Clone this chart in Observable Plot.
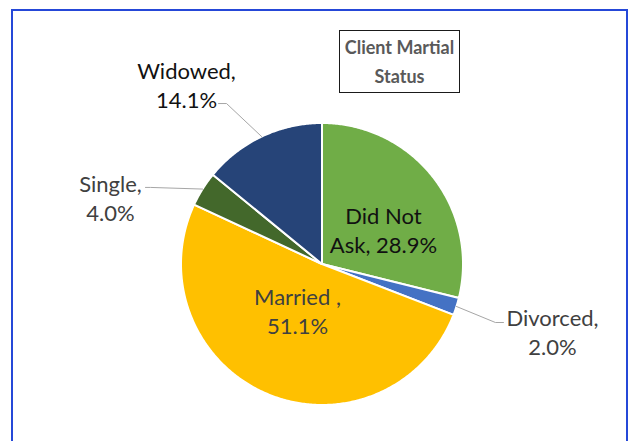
<!DOCTYPE html>
<html>
<head>
<meta charset="utf-8">
<script src="https://cdn.jsdelivr.net/npm/d3@7"></script>
<script src="https://cdn.jsdelivr.net/npm/@observablehq/plot@0.6"></script>
<style>
  html, body { margin: 0; padding: 0; background: #fff; }
  #wrap { position: relative; width: 629px; height: 441px; overflow: hidden; font-family: Lato, sans-serif; }
  #frame { position: absolute; left: 11px; top: 9px; width: 617px; height: 500px; box-sizing: border-box; border: 2px solid #2548d8; pointer-events: none; }
  #title { position: absolute; left: 339px; top: 30px; width: 121px; height: 63px; box-sizing: border-box; border: 1px solid #1a1a1a; color: #595959; font-weight: bold; font-size: 18px; line-height: 29px; text-align: center; padding-top: 2px; }
  #chart { position: absolute; left: 0; top: 0; }
</style>
</head>
<body>
<div id="wrap">
  <div id="chart"></div>
  <div id="frame"></div>
  <div id="title">Client Martial<br>Status</div>
</div>
<script>
// ---- data ----
const categories = ["Did Not Ask", "Divorced", "Married ", "Single", "Widowed"];
const values = [28.9, 2.0, 51.1, 4.0, 14.1];
const colors = ["#70AD47", "#4472C4", "#FFC000", "#43682B", "#264478"];

// ---- layout (in units of the pie radius, relative to centre, y downward) ----
const labelPos = [[0.436, -0.245], [1.635, 0.479], [-0.174, 0.33], [-1.5, -0.472], [-0.961, -1.273]];
const labelFirstLineWords = [2, 1, 2, 1, 1];
const labelDark = [true, false, false, false, true];
const leaderElbow = [null, [1.23, 0.415], null, [-1.216, -0.543], [-0.677, -1.138]];
const leaderEnd = [null, [1.287, 0.415], null, [-1.252, -0.543], [-0.734, -1.138]];

const W = 629, H = 441, cx = 321.5, cy = 263.5, R = 141;

const arcs = d3.pie().sort(null).value(d => d)(values);

const slicePts = [];
arcs.forEach((a, i) => {
  slicePts.push({cat: categories[i], x: 0, y: 0});
  const n = Math.max(2, Math.ceil((a.endAngle - a.startAngle) / 0.01));
  for (let k = 0; k <= n; k++) {
    const t = a.startAngle + (a.endAngle - a.startAngle) * k / n;
    slicePts.push({cat: categories[i], x: Math.sin(t), y: -Math.cos(t)});
  }
  slicePts.push({cat: categories[i], x: 0, y: 0});
});

const leaderPts = [];
arcs.forEach((a, i) => {
  if (!leaderElbow[i]) return;
  const m = (a.startAngle + a.endAngle) / 2;
  leaderPts.push({cat: categories[i], x: Math.sin(m), y: -Math.cos(m)});
  leaderPts.push({cat: categories[i], x: leaderElbow[i][0], y: leaderElbow[i][1]});
  leaderPts.push({cat: categories[i], x: leaderEnd[i][0], y: leaderEnd[i][1]});
});

const labels = categories.map((c, i) => {
  const words = `${c.trim() === c ? c : c}, ${values[i].toFixed(1)}%`.split(" ");
  const text = words.slice(0, labelFirstLineWords[i]).join(" ") + "\n" + words.slice(labelFirstLineWords[i]).join(" ");
  return {x: labelPos[i][0], y: labelPos[i][1], text, dark: labelDark[i]};
});

const plot = Plot.plot({
  width: W, height: H, margin: 0,
  x: {domain: [-cx / R, (W - cx) / R], range: [0, W], axis: null},
  y: {domain: [-cy / R, (H - cy) / R], range: [0, H], axis: null},
  color: {domain: categories, range: colors},
  style: {background: "transparent", fontFamily: "Lato, sans-serif"},
  marks: [
    Plot.line(slicePts, {x: "x", y: "y", z: "cat", fill: "cat", stroke: "white", strokeWidth: 2, strokeLinejoin: "round"}),
    Plot.line(leaderPts, {x: "x", y: "y", z: "cat", stroke: "#A6A6A6", strokeWidth: 1}),
    Plot.text(labels.filter(d => d.dark), {x: "x", y: "y", text: "text", fontSize: 22, lineHeight: 1.32, fill: "#111"}),
    Plot.text(labels.filter(d => !d.dark), {x: "x", y: "y", text: "text", fontSize: 22, lineHeight: 1.32, fill: "#404040"})
  ]
});
document.getElementById("chart").appendChild(plot);
</script>
</body>
</html>
